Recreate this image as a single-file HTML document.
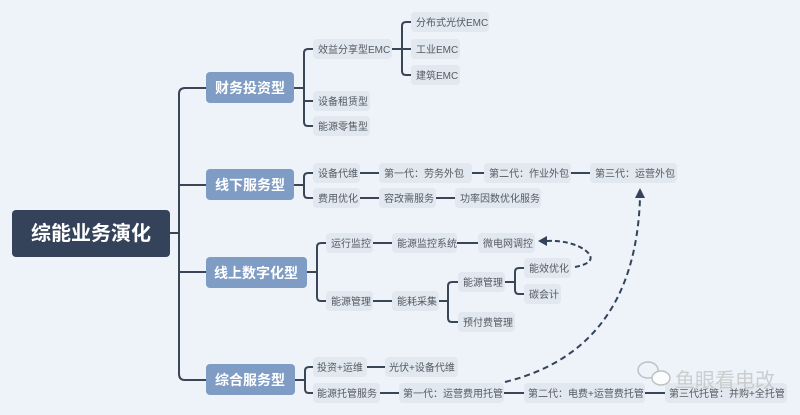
<!DOCTYPE html>
<html><head><meta charset="utf-8"><style>
html,body{margin:0;padding:0;background:#edf3f9;}
svg{display:block;font-family:"Liberation Sans","Noto Sans CJK SC",sans-serif;}
.n{fill:#e1e8f0;}
.t{font-size:10px;fill:#555a62;}
.l1{fill:#7f9cc4;}
.l1t{font-size:14px;font-weight:bold;fill:#fff;}
.c{stroke:#3a4558;stroke-width:2;fill:none;}
</style></head><body>
<svg width="800" height="415" viewBox="0 0 800 415">
<rect width="800" height="415" fill="#edf3f9"/>
<rect x="12" y="210" width="158" height="47" rx="4" fill="#34435a"/>
<text x="91" y="240" text-anchor="middle" font-size="20" font-weight="bold" fill="#fff">综能业务演化</text>
<path class="c" d="M170 233H179M206 88H185Q179 88 179 94V374Q179 380 185 380H206M179 185H206M179 272H206"/>
<rect class="l1" x="206" y="72" width="88" height="31" rx="4"/><text class="l1t" x="250" y="93" text-anchor="middle">财务投资型</text>
<rect class="l1" x="206" y="169" width="88" height="31" rx="4"/><text class="l1t" x="250" y="190" text-anchor="middle">线下服务型</text>
<rect class="l1" x="206" y="257" width="101" height="31" rx="4"/><text class="l1t" x="256" y="278" text-anchor="middle">线上数字化型</text>
<rect class="l1" x="206" y="364" width="89" height="31" rx="4"/><text class="l1t" x="250" y="385" text-anchor="middle">综合服务型</text>
<path class="c" stroke-width="1.8" d="M294 88H304M313 49H308Q304 49 304 53V122Q304 126 308 126H313M304 101H313
M392 49H402M411 22H406Q402 22 402 26V71Q402 75 406 75H411M402 49H411
M294 185H304M313 173H308Q304 173 304 177V194Q304 198 308 198H313
M360 173H379M472 173H484M571 173H590M360 198H379M436 198H455
M307 272H317M326 243H321Q317 243 317 247V297Q317 301 321 301H326
M373 243H392M457 243H478M373 301H392M439 301H448M458 282H452Q448 282 448 286V318Q448 322 452 322H458
M505 282H515M524 268H519Q515 268 515 272V290Q515 294 519 294H524
M295 380H305M313 367H309Q305 367 305 371V389Q305 393 309 393H313
M367 367H385M380 393H399M504 393H524M645 393H665"/>
<g>
<rect class="n" x="313" y="39" width="79" height="20" rx="4"/><text class="t" x="318" y="53">效益分享型EMC</text>
<rect class="n" x="313" y="91" width="57" height="20" rx="4"/><text class="t" x="318" y="105">设备租赁型</text>
<rect class="n" x="313" y="116" width="57" height="20" rx="4"/><text class="t" x="318" y="130">能源零售型</text>
<rect class="n" x="411" y="12" width="78" height="20" rx="4"/><text class="t" x="416" y="26">分布式光伏EMC</text>
<rect class="n" x="411" y="39" width="49" height="20" rx="4"/><text class="t" x="416" y="53">工业EMC</text>
<rect class="n" x="411" y="65" width="49" height="20" rx="4"/><text class="t" x="416" y="79">建筑EMC</text>
<rect class="n" x="313" y="163" width="47" height="20" rx="4"/><text class="t" x="318" y="177">设备代维</text>
<rect class="n" x="313" y="188" width="47" height="20" rx="4"/><text class="t" x="318" y="202">费用优化</text>
<rect class="n" x="379" y="163" width="93" height="20" rx="4"/><text class="t" x="384" y="177">第一代：劳务外包</text>
<rect class="n" x="484" y="163" width="87" height="20" rx="4"/><text class="t" x="489" y="177">第二代：作业外包</text>
<rect class="n" x="590" y="163" width="87" height="20" rx="4"/><text class="t" x="595" y="177">第三代：运营外包</text>
<rect class="n" x="379" y="188" width="57" height="20" rx="4"/><text class="t" x="384" y="202">容改需服务</text>
<rect class="n" x="455" y="188" width="86" height="20" rx="4"/><text class="t" x="460" y="202">功率因数优化服务</text>
<rect class="n" x="326" y="233" width="47" height="20" rx="4"/><text class="t" x="331" y="247">运行监控</text>
<rect class="n" x="392" y="233" width="65" height="20" rx="4"/><text class="t" x="397" y="247">能源监控系统</text>
<rect class="n" x="478" y="233" width="57" height="20" rx="4"/><text class="t" x="483" y="247">微电网调控</text>
<rect class="n" x="326" y="291" width="47" height="20" rx="4"/><text class="t" x="331" y="305">能源管理</text>
<rect class="n" x="392" y="291" width="47" height="20" rx="4"/><text class="t" x="397" y="305">能耗采集</text>
<rect class="n" x="458" y="272" width="47" height="20" rx="4"/><text class="t" x="463" y="286">能源管理</text>
<rect class="n" x="458" y="312" width="57" height="20" rx="4"/><text class="t" x="463" y="326">预付费管理</text>
<rect class="n" x="524" y="258" width="47" height="20" rx="4"/><text class="t" x="529" y="272">能效优化</text>
<rect class="n" x="524" y="284" width="37" height="20" rx="4"/><text class="t" x="529" y="298">碳会计</text>
<rect class="n" x="313" y="357" width="54" height="20" rx="4"/><text class="t" x="317" y="371">投资+运维</text>
<rect class="n" x="385" y="357" width="73" height="20" rx="4"/><text class="t" x="389" y="371">光伏+设备代维</text>
<rect class="n" x="313" y="383" width="67" height="20" rx="4"/><text class="t" x="317" y="397">能源托管服务</text>
<rect class="n" x="399" y="383" width="105" height="20" rx="4"/><text class="t" x="403" y="397">第一代：运营费用托管</text>
<rect class="n" x="524" y="383" width="121" height="20" rx="4"/><text class="t" x="528" y="397">第二代：电费+运营费托管</text>
<rect class="n" x="665" y="383" width="122" height="20" rx="4"/><text class="t" x="669" y="397">第三代托管：并购+全托管</text>
</g>
<path d="M575 267Q600 262 585 250Q570 240 546 241" stroke="#34435a" stroke-width="2" stroke-dasharray="5,3" fill="none"/>
<polygon points="538,241 547,236 547,246" fill="#34435a"/>
<path d="M505 382Q635 350 640 198" stroke="#34435a" stroke-width="2" stroke-dasharray="6,4" fill="none"/>
<polygon points="640,188 635,198 645,198" fill="#34435a"/>
<g opacity="0.8">
<ellipse cx="648" cy="370" rx="10" ry="8" fill="none" stroke="#b5b5b5" stroke-width="1.5"/>
<ellipse cx="661" cy="378" rx="9" ry="7" fill="#fff" stroke="#b5b5b5" stroke-width="1.5"/>
<text x="675" y="387" font-size="20" fill="#c4c4c4">鱼眼看电改</text>
</g>
</svg>
</body></html>
